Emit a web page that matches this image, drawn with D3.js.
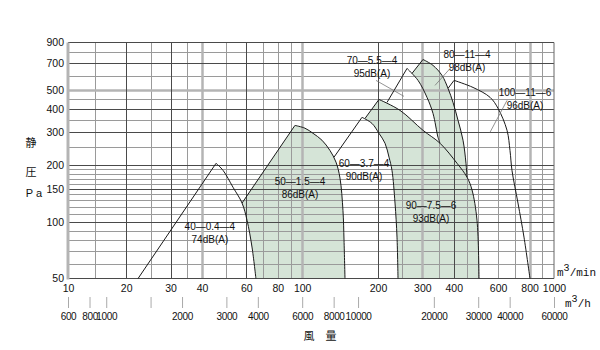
<!DOCTYPE html>
<html><head><meta charset="utf-8">
<script src="https://cdn.jsdelivr.net/npm/d3@7"></script>
<style>
body{margin:0;background:#fff;}
svg{display:block;}
</style></head><body>
<svg id="chart" width="600" height="350"></svg>
<script>
// ---------- data ----------
const xTickLabels = [10,20,30,40,60,80,100,200,300,400,600,800,1000];       // m3/min
const yTickLabels = [50,100,150,200,300,400,500,700,900];                   // Pa
const hTickValues = [600,800,1000,1500,2000,3000,4000,6000,8000,10000,20000,30000,40000,60000]; // m3/h
const hUnlabeled = [1500];
const xGridThin  = [15,25,35,50,70,80,90,250,350,450,500,600,700,900];
const xGridDark  = [20,30,60,200,400];
const xGridThick = [40,100,300,800];
const yGridThin  = [60,70,80,90,110,120,130,140,160,170,180,190,250,350,450,600,800];
const yGridDark  = [100,150,200,300,400,700];
const yGridThick = [500];

// fan curves: stall line (start -> peak) and falling curve, [m3/min, Pa]
const fan40_stall = [[22.3,50],[45.5,205]];
const fan40_fall  = [[45.5,205],[48.5,188],[53.1,153],[57.7,126],[60.4,102],[63.2,73.5],[65.5,50]];
const fan50_stall = [[57.7,126],[93.6,326]];
const fan50_fall  = [[93.6,326],[102.6,315],[110.4,296],[119.8,272],[128.9,240],[136.2,208],[141.3,171],[145.2,115],[146.6,80],[147.9,50]];
const fan60_stall = [[133.8,221],[172.8,360]];
const fan60_fall  = [[172.8,360],[189.3,334],[201.8,296],[213.3,262],[221.2,221],[227.3,188],[233.7,126],[238.0,83],[240.2,50]];
const fan90_stall = [[177.6,355],[201.8,448]];
const fan90_fall  = [[201.8,448],[244.6,392],[301.8,307],[352.7,262],[412.0,205],[451.4,173],[472.5,148],[494.6,102],[503.8,50]];
const fan70_stall = [[217.2,432],[260.8,655]];
const fan70_fall  = [[260.8,655],[288.4,566],[313.0,460],[330.7,378],[346.2,282],[352.7,262]];
const fan80_stall = [[272.9,616],[301.8,731]];
const fan80_fall  = [[301.8,731],[330.7,680],[359.2,601],[379.5,513],[397.2,432],[415.8,347],[435.2,272],[447.2,205],[451.4,173]];
const fan100_stall = [[379.5,513],[400.9,566]];
const fan100_fall  = [[400.9,566],[476.9,519],[557.0,460],[599.3,402],[650.8,307],[668.7,240],[681.0,188],[719.4,126],[760.0,83],[802.9,50]];

// left boundaries of the shaded ranges (bottom -> top)
const fan50_left = [[65.5,50],[63.2,73.5],[60.4,102],[57.7,126]];
const fan90_left = [[240.2,50],[238.0,83],[233.7,126],[227.3,188],[221.2,221],[213.3,262],[201.8,296],[189.3,334],[177.6,355]];
const fan80_left = [[352.7,262],[346.2,282],[330.7,378],[313.0,460],[288.4,566],[272.9,616]];

// labels: model, noise, anchor [m3/min, Pa]
const labelNames  = ["40—0.4—4","50—1.5—4","60—3.7—4","70—5.5—4","80—11—4","100—11—6","90—7.5—6"];
const labelNoise  = ["74dB(A)","86dB(A)","90dB(A)","95dB(A)","98dB(A)","96dB(A)","93dB(A)"];
const labelAnchor = [[43.0,95.0],[98.0,164.6],[176.0,205.2],[189.3,722.5],[451.4,777.5],[766.9,488.5],[324.8,122.8]];
const leaders = [[[196.4,565.7],[253.7,465.3]],[[389.9,663.0],[336.9,532.2]],[[650.8,443.0],[557.0,299.6]]];

// ---------- drawing ----------
const svg = d3.select("#chart");
const FONT = "'Liberation Sans', Arial, sans-serif";
const x = d3.scaleLog().domain([11.75,1000]).range([68,554]).clamp(true);
const y = d3.scaleLog().domain([50,900]).range([278.5,42.5]);
// m3/h axis: same log mapping (m3/h = 60 x m3/min), lowest decade squeezed as in the original
const xh = d3.scaleLog().domain([600,1000,60000]).range([68, x(1000/60), x(1000)]).clamp(true);
const X0 = x.range()[0], X1 = x.range()[1], Y0 = y.range()[0], Y1 = y.range()[1];

const curve = d3.line().x(d=>x(d[0])).y(d=>y(d[1])).curve(d3.curveCatmullRom.alpha(0.5));
const straight = d3.line().x(d=>x(d[0])).y(d=>y(d[1]));
const cont = s => s.replace(/^M/, "L");

const FILL = "#d5e4d7";
function fillPath(left, stall, fall){
  return curve(left) + cont(straight(stall)) + cont(curve(fall)) + "Z";
}
const gFill = svg.append("g");
gFill.append("path").attr("d", fillPath(fan50_left, fan50_stall, fan50_fall)).attr("fill", FILL);
gFill.append("path").attr("d", fillPath(fan90_left, fan90_stall, fan90_fall)).attr("fill", FILL);
gFill.append("path").attr("d", fillPath(fan80_left, fan80_stall, fan80_fall)).attr("fill", FILL);

// grid
const gGrid = svg.append("g");
function vLines(vals, color, w){
  gGrid.selectAll(null).data(vals).enter().append("line")
    .attr("x1", d=>Math.round(x(d))+0.5).attr("x2", d=>Math.round(x(d))+0.5)
    .attr("y1", Y1).attr("y2", Y0).attr("stroke", color).attr("stroke-width", w);
}
function hLines(vals, color, w){
  gGrid.selectAll(null).data(vals).enter().append("line")
    .attr("y1", d=>Math.round(y(d))+0.5).attr("y2", d=>Math.round(y(d))+0.5)
    .attr("x1", X0).attr("x2", X1).attr("stroke", color).attr("stroke-width", w);
}
vLines(xGridThin, "#9a9a9a", 1);
hLines(yGridThin, "#9a9a9a", 1);
vLines(xGridThick, "#b4b4b4", 2.5);
hLines(yGridThick, "#b4b4b4", 2.5);
vLines(xGridDark, "#4a4a4a", 1);
hLines(yGridDark, "#4a4a4a", 1);
// frame
gGrid.append("line").attr("x1",X0).attr("x2",X1).attr("y1",Y1).attr("y2",Y1).attr("stroke","#4a4a4a");
gGrid.append("line").attr("x1",X0).attr("x2",X1).attr("y1",Y0).attr("y2",Y0).attr("stroke","#4a4a4a");
gGrid.append("line").attr("x1",X1).attr("x2",X1).attr("y1",Y1).attr("y2",Y0).attr("stroke","#666");
gGrid.append("line").attr("x1",X0).attr("x2",X0).attr("y1",Y1).attr("y2",Y0+1).attr("stroke","#b4b4b4").attr("stroke-width",3);

// fan curves
const gCurves = svg.append("g").attr("fill","none").attr("stroke","#1a1a1a").attr("stroke-width",1);
[[fan40_stall,fan40_fall],[fan50_stall,fan50_fall],[fan60_stall,fan60_fall],[fan90_stall,fan90_fall],
 [fan70_stall,fan70_fall],[fan80_stall,fan80_fall],[fan100_stall,fan100_fall]].forEach(([s,f])=>{
  gCurves.append("path").attr("d", straight(s) + cont(curve(f)));
});

// leader lines
svg.append("g").selectAll("line").data(leaders).enter().append("line")
  .attr("x1", d=>x(d[0][0])).attr("y1", d=>y(d[0][1]))
  .attr("x2", d=>x(d[1][0])).attr("y2", d=>y(d[1][1]))
  .attr("stroke","#777").attr("stroke-width",0.8);

// labels
const gLab = svg.append("g").attr("font-family", FONT).attr("font-size", 10).attr("fill","#111").attr("text-anchor","middle");
labelNames.forEach((n,i)=>{
  const a = labelAnchor[i];
  gLab.append("text").attr("x", x(a[0])).attr("y", y(a[1])).attr("dy","0.35em").text(n);
  gLab.append("text").attr("x", x(a[0])).attr("y", y(a[1])+13).attr("dy","0.35em").text(labelNoise[i]);
});

// axes
function styleAxis(g){
  g.select(".domain").remove();
  g.selectAll("text").attr("font-family", FONT).attr("font-size", 10.5).attr("fill","#111");
}
svg.append("g").attr("transform", `translate(0,${Y0})`)
  .call(d3.axisBottom(x).tickValues(xTickLabels).tickSize(0).tickPadding(6).tickFormat(d3.format("d")))
  .call(styleAxis);
svg.append("g").attr("transform", `translate(${X0},0)`)
  .call(d3.axisLeft(y).tickValues(yTickLabels).tickSize(0).tickPadding(4).tickFormat(d3.format("d")))
  .call(styleAxis);
const hAxis = svg.append("g").attr("transform", "translate(0,308)")
  .call(d3.axisBottom(xh).tickValues(hTickValues).tickSize(-11).tickPadding(5)
        .tickFormat(d => hUnlabeled.includes(d) ? "" : d3.format("d")(d)))
  .call(styleAxis);
hAxis.selectAll(".tick line").attr("stroke","#aaa");
hAxis.selectAll("text").attr("font-size", 10).attr("letter-spacing", -0.35);

// unit labels
const unitFont = "'Liberation Mono','DejaVu Sans Mono', monospace";
const u1 = svg.append("text").attr("x",557).attr("y",276).attr("font-family",unitFont).attr("font-size",11).attr("fill","#111");
u1.append("tspan").text("m");
u1.append("tspan").attr("dy",-5).attr("font-size",10).text("3");
u1.append("tspan").attr("dy",5).text("/min");
const u2 = svg.append("text").attr("x",565).attr("y",307).attr("font-family",unitFont).attr("font-size",11).attr("fill","#111");
u2.append("tspan").text("m");
u2.append("tspan").attr("dy",-5).attr("font-size",10).text("3");
u2.append("tspan").attr("dy",5).text("/h");

// axis titles
const cjk = "'Noto Sans CJK JP', sans-serif";
svg.append("text").attr("x",31).attr("y",143).attr("dy","0.35em").attr("text-anchor","middle")
  .attr("font-family",cjk).attr("font-size",11).attr("fill","#111").text("静");
svg.append("text").attr("x",31).attr("y",172).attr("dy","0.35em").attr("text-anchor","middle")
  .attr("font-family",cjk).attr("font-size",11).attr("fill","#111").text("圧");
svg.append("text").attr("x",34).attr("y",193).attr("dy","0.35em").attr("text-anchor","middle")
  .attr("font-family",FONT).attr("font-size",11).attr("fill","#111").text("P a");
svg.append("text").attr("x",320).attr("y",336).attr("dy","0.35em").attr("text-anchor","middle")
  .attr("font-family",cjk).attr("font-size",11).attr("fill","#111").text("風　量");
</script>
</body></html>
